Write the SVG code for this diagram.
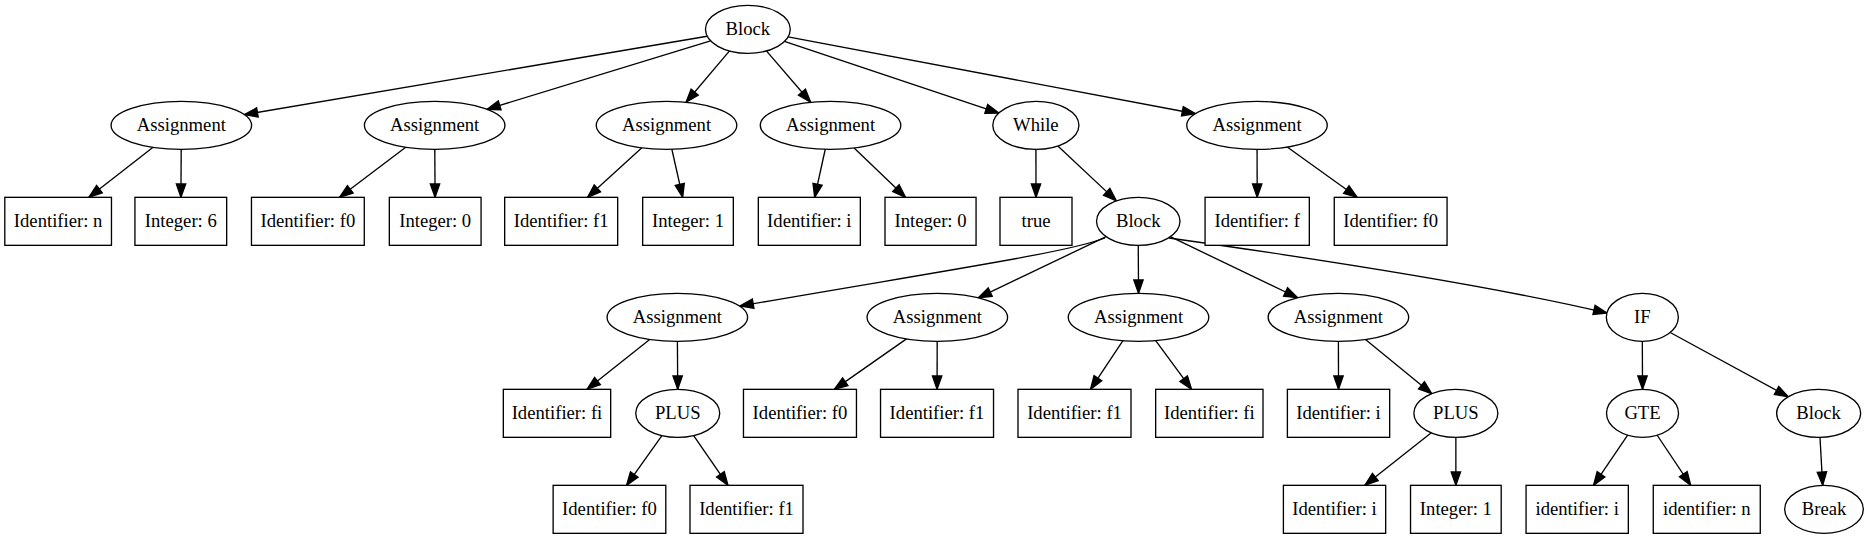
<svg xmlns="http://www.w3.org/2000/svg" width="1873" height="539" viewBox="0 0 1873 539">
<style>
.node ellipse, .node rect { fill: #fff; stroke: #000; stroke-width: 1; }
.node text { font-family: 'Liberation Serif', 'Times New Roman', Times, 'DejaVu Serif', serif; font-size: 14px; text-anchor: middle; fill: #000; }
.edges line, .edges path { fill: none; stroke: #000; stroke-width: 1; marker-end: url(#ah); }
</style>
<defs>
<marker id="ah" markerWidth="10" markerHeight="7" refX="10" refY="3.5" orient="auto" markerUnits="userSpaceOnUse" overflow="visible">
<path d="M0,0 L10,3.5 L0,7 Z" fill="#000" stroke="#000" stroke-width="1"/>
</marker>
</defs>
<rect x="0" y="0" width="1873" height="539" fill="#fff"/>
<g transform="scale(1.33333)" font-family="'Liberation Serif', 'Times New Roman', serif">
<g id="edges" class="edges">
<line x1="530.4" y1="27.2" x2="183.2" y2="86.0"/>
<line x1="532.9" y1="30.6" x2="365.2" y2="82.0"/>
<line x1="547.15" y1="38.2" x2="514.55" y2="76.7"/>
<line x1="574.8" y1="38.2" x2="608.0" y2="76.7"/>
<line x1="588.3" y1="31.1" x2="749.2" y2="84.8"/>
<line x1="591.07" y1="27.69" x2="896.6" y2="85.3"/>
<line x1="114.8" y1="110.5" x2="66.7" y2="148"/>
<line x1="135.9" y1="112" x2="135.7" y2="148"/>
<line x1="304.3" y1="110.4" x2="254.7" y2="148"/>
<line x1="326.1" y1="112" x2="326.3" y2="148"/>
<line x1="481.4" y1="110.85" x2="440.65" y2="148"/>
<line x1="503.9" y1="111.95" x2="512.0" y2="148"/>
<line x1="618.94" y1="111.95" x2="611.0" y2="148"/>
<line x1="640.6" y1="110.96" x2="679.15" y2="148"/>
<line x1="776.95" y1="112" x2="777" y2="148"/>
<line x1="793.4" y1="109.5" x2="837.3" y2="150.65"/>
<line x1="942.8" y1="112" x2="942.9" y2="148"/>
<line x1="965.4" y1="110.26" x2="1017.9" y2="148"/>
<path d="M828.75,178.5 C802,189 720,201 555,229.5"/>
<line x1="829.6" y1="177.5" x2="733.65" y2="223.36"/>
<line x1="853.7" y1="184" x2="853.9" y2="220"/>
<line x1="877.74" y1="177.53" x2="973.2" y2="223.3"/>
<path d="M876.75,178.5 C930,186 1100,210 1205.25,234.75"/>
<line x1="487.26" y1="254.55" x2="440.3" y2="292"/>
<line x1="508.05" y1="256" x2="508.3" y2="292"/>
<line x1="496.44" y1="326.67" x2="469.9" y2="364"/>
<line x1="520.24" y1="326.66" x2="546.0" y2="364"/>
<line x1="679.87" y1="254.17" x2="625.75" y2="292"/>
<line x1="702.9" y1="256" x2="702.8" y2="292"/>
<line x1="842.2" y1="255.55" x2="817.9" y2="292"/>
<line x1="866.77" y1="255.45" x2="893.7" y2="292"/>
<line x1="1003.8" y1="256" x2="1003.9" y2="292"/>
<line x1="1024.12" y1="254.61" x2="1073.85" y2="295.25"/>
<line x1="1073.46" y1="324.59" x2="1023.65" y2="364"/>
<line x1="1091.9" y1="328" x2="1091.9" y2="364"/>
<line x1="1231.75" y1="256" x2="1231.9" y2="292"/>
<line x1="1252.66" y1="249.38" x2="1341.2" y2="297.6"/>
<line x1="1220.74" y1="326.39" x2="1195.15" y2="364"/>
<line x1="1242.9" y1="326.44" x2="1268.05" y2="364"/>
<line x1="1365" y1="328" x2="1367" y2="364"/>
</g>
<g id="n_block_root" class="node"><ellipse cx="560.9" cy="22" rx="31.8" ry="18"/><text x="560.9" y="26">Block</text></g>
<g id="n_assign1" class="node"><ellipse cx="136" cy="94" rx="52.7" ry="18"/><text x="136" y="98">Assignment</text></g>
<g id="n_assign2" class="node"><ellipse cx="326" cy="94" rx="52.7" ry="18"/><text x="326" y="98">Assignment</text></g>
<g id="n_assign3" class="node"><ellipse cx="499.9" cy="94" rx="52.7" ry="18"/><text x="499.9" y="98">Assignment</text></g>
<g id="n_assign4" class="node"><ellipse cx="622.9" cy="94" rx="52.7" ry="18"/><text x="622.9" y="98">Assignment</text></g>
<g id="n_while" class="node"><ellipse cx="776.9" cy="94" rx="32.3" ry="18"/><text x="776.9" y="98">While</text></g>
<g id="n_assign6" class="node"><ellipse cx="942.75" cy="94" rx="52.7" ry="18"/><text x="942.75" y="98">Assignment</text></g>
<g id="n_id_n" class="node"><rect x="3.6" y="148" width="80" height="36"/><text x="43.6" y="170">Identifier: n</text></g>
<g id="n_int_6" class="node"><rect x="101.2" y="148" width="68.8" height="36"/><text x="135.6" y="170">Integer: 6</text></g>
<g id="n_id_f0" class="node"><rect x="188.6" y="148" width="84.6" height="36"/><text x="230.9" y="170">Identifier: f0</text></g>
<g id="n_int_0" class="node"><rect x="292" y="148" width="68.8" height="36"/><text x="326.4" y="170">Integer: 0</text></g>
<g id="n_id_f1" class="node"><rect x="378.5" y="148" width="84.75" height="36"/><text x="420.9" y="170">Identifier: f1</text></g>
<g id="n_int_1" class="node"><rect x="482" y="148" width="68" height="36"/><text x="516" y="170">Integer: 1</text></g>
<g id="n_id_i" class="node"><rect x="568.75" y="148" width="76.5" height="36"/><text x="607" y="170">Identifier: i</text></g>
<g id="n_int_0b" class="node"><rect x="663.75" y="148" width="68.3" height="36"/><text x="697.9" y="170">Integer: 0</text></g>
<g id="n_true" class="node"><rect x="750" y="148" width="54" height="36"/><text x="777" y="170">true</text></g>
<g id="n_block2" class="node"><ellipse cx="853.7" cy="166" rx="31.3" ry="18"/><text x="853.7" y="170">Block</text></g>
<g id="n_id_f" class="node"><rect x="903.8" y="148" width="78.2" height="36"/><text x="942.9" y="170">Identifier: f</text></g>
<g id="n_id_f0b" class="node"><rect x="1000.7" y="148" width="84.6" height="36"/><text x="1043" y="170">Identifier: f0</text></g>
<g id="n_b_assign1" class="node"><ellipse cx="508" cy="238" rx="52.7" ry="18"/><text x="508" y="242">Assignment</text></g>
<g id="n_b_assign2" class="node"><ellipse cx="703" cy="238" rx="52.7" ry="18"/><text x="703" y="242">Assignment</text></g>
<g id="n_b_assign3" class="node"><ellipse cx="853.9" cy="238" rx="52.7" ry="18"/><text x="853.9" y="242">Assignment</text></g>
<g id="n_b_assign4" class="node"><ellipse cx="1003.8" cy="238" rx="52.7" ry="18"/><text x="1003.8" y="242">Assignment</text></g>
<g id="n_if" class="node"><ellipse cx="1231.75" cy="238" rx="27" ry="18"/><text x="1231.75" y="242">IF</text></g>
<g id="n_id_fi" class="node"><rect x="377.5" y="292" width="80.5" height="36"/><text x="417.75" y="314">Identifier: fi</text></g>
<g id="n_plus1" class="node"><ellipse cx="508.3" cy="310" rx="31.5" ry="18"/><text x="508.3" y="314">PLUS</text></g>
<g id="n_id_f0c" class="node"><rect x="557.6" y="292" width="84.75" height="36"/><text x="600" y="314">Identifier: f0</text></g>
<g id="n_id_f1c" class="node"><rect x="660.4" y="292" width="84.75" height="36"/><text x="702.75" y="314">Identifier: f1</text></g>
<g id="n_id_f1d" class="node"><rect x="763.5" y="292" width="84.75" height="36"/><text x="805.9" y="314">Identifier: f1</text></g>
<g id="n_id_fi2" class="node"><rect x="866.75" y="292" width="80.5" height="36"/><text x="907" y="314">Identifier: fi</text></g>
<g id="n_id_i2" class="node"><rect x="965.55" y="292" width="76.7" height="36"/><text x="1003.9" y="314">Identifier: i</text></g>
<g id="n_plus2" class="node"><ellipse cx="1091.9" cy="310" rx="31.5" ry="18"/><text x="1091.9" y="314">PLUS</text></g>
<g id="n_gte" class="node"><ellipse cx="1231.9" cy="310" rx="27" ry="18"/><text x="1231.9" y="314">GTE</text></g>
<g id="n_block3" class="node"><ellipse cx="1364" cy="310" rx="31.5" ry="18"/><text x="1364" y="314">Block</text></g>
<g id="n_id_f0d" class="node"><rect x="414.85" y="364" width="84.5" height="36"/><text x="457.1" y="386">Identifier: f0</text></g>
<g id="n_id_f1e" class="node"><rect x="517.5" y="364" width="84.75" height="36"/><text x="559.9" y="386">Identifier: f1</text></g>
<g id="n_id_i3" class="node"><rect x="962.55" y="364" width="76.7" height="36"/><text x="1000.9" y="386">Identifier: i</text></g>
<g id="n_int_1b" class="node"><rect x="1057.9" y="364" width="68" height="36"/><text x="1091.9" y="386">Integer: 1</text></g>
<g id="n_lid_i" class="node"><rect x="1144.55" y="364" width="76.7" height="36"/><text x="1182.9" y="386">identifier: i</text></g>
<g id="n_lid_n" class="node"><rect x="1239.95" y="364" width="80.25" height="36"/><text x="1280.1" y="386">identifier: n</text></g>
<g id="n_break" class="node"><ellipse cx="1368" cy="382" rx="29.5" ry="18"/><text x="1368" y="386">Break</text></g>
</g>
</svg>
